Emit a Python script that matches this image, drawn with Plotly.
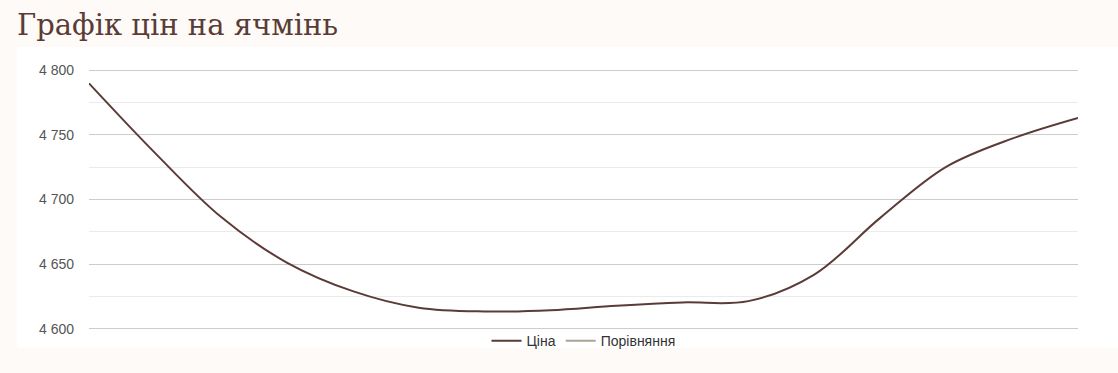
import plotly.graph_objects as go

# Data
days = list(range(16))
price = [4789.7, 4736.0, 4686.6, 4651.3, 4629.2, 4616.4, 4613.5, 4614.5,
         4618.0, 4620.5, 4621.5, 4642.0, 4685.8, 4725.2, 4747.0, 4763.0]
comparison = []  # no comparison values shown
y_ticks = [4600, 4650, 4700, 4750, 4800]
title_text = "Графік цін на ячмінь"
series_names = ["Ціна", "Порівняння"]

W, H = 1118, 373
L, R, T, B = 89, 40, 70, 44
pw, ph = W - L - R, H - T - B

fig = go.Figure()
fig.add_trace(go.Scatter(
    x=days, y=price, mode="lines", name=series_names[0],
    line=dict(color="#5b3b37", width=2, shape="spline", smoothing=1.0),
    hoverinfo="x+y",
))
fig.add_trace(go.Scatter(
    x=comparison if comparison else [None], y=comparison if comparison else [None],
    mode="lines", name=series_names[1],
    line=dict(color="#a8a596", width=2),
    showlegend=True,
))

# white card behind the chart
fig.add_shape(type="rect", xref="paper", yref="paper",
              x0=(17 - L) / pw, x1=(W - L) / pw,
              y0=(T + ph - 347) / ph, y1=(T + ph - 48) / ph,
              fillcolor="white", line=dict(width=0), layer="below")

fig.update_layout(
    width=W, height=H,
    margin=dict(l=L, r=R, t=T - 1, b=B - 1),
    paper_bgcolor="#fdfaf7",
    plot_bgcolor="rgba(0,0,0,0)",
    separators=", ",
    title=dict(text=title_text, xref="container", yref="container",
               x=17 / W, xanchor="left", y=1 - 25 / H, yanchor="middle",
               font=dict(family="DejaVu Serif", size=29, color="#5a3b35")),
    showlegend=True,
    legend=dict(orientation="h", x=0.5, xanchor="center",
                y=-(340 - (T + ph)) / ph, yanchor="middle",
                font=dict(family="Liberation Sans, Arial", size=14, color="#333333"),
                bgcolor="rgba(0,0,0,0)", itemwidth=30),
    xaxis=dict(range=[days[0], days[-1]], showgrid=False, zeroline=False,
               showticklabels=False, showline=False, ticks=""),
    yaxis=dict(range=[y_ticks[0] - 0.8, y_ticks[-1] + 0.8], tickvals=y_ticks,
               separatethousands=True, tickformat=",d",
               showgrid=True, gridcolor="#cccccc", gridwidth=1,
               minor=dict(dtick=25, tick0=4600, showgrid=True, gridcolor="#ebebeb", gridwidth=1),
               zeroline=False, showline=False, ticks="",
               ticklabelstandoff=14,
               tickfont=dict(family="Liberation Sans, Arial", size=14, color="#555555")),
)

fig.write_html("out.html")
